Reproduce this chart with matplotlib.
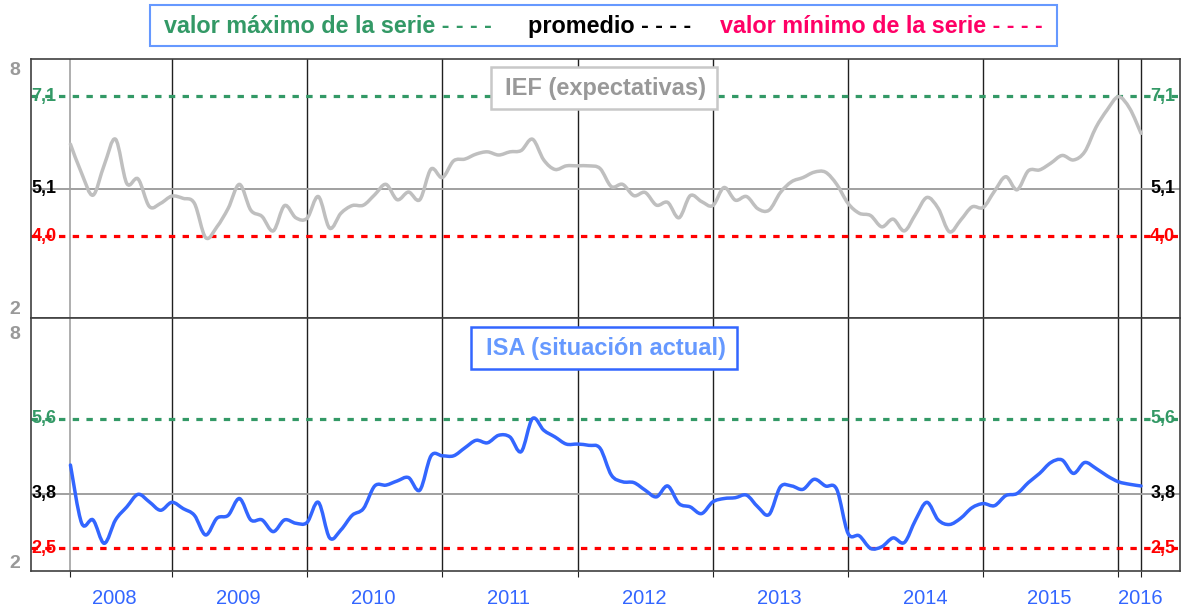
import numpy as np
import matplotlib
matplotlib.use("Agg")
import matplotlib.pyplot as plt
from matplotlib.path import Path
from matplotlib.patches import PathPatch, Rectangle

plt.rcParams['font.family'] = ['Liberation Sans', 'DejaVu Sans']

# ---------------- data (monthly, April 2008 .. March 2016) ----------------
start_year, start_month = 2008, 4
ief = [6.04, 5.39, 4.91, 5.58, 6.15, 5.17, 5.27, 4.66, 4.73, 4.89, 4.84, 4.73,
       3.97, 4.21, 4.62, 5.15, 4.58, 4.44, 4.12, 4.68, 4.41, 4.40, 4.88, 4.18,
       4.51, 4.68, 4.69, 4.92, 5.15, 4.81, 4.98, 4.81, 5.49, 5.30, 5.67, 5.71,
       5.82, 5.87, 5.80, 5.87, 5.90, 6.15, 5.69, 5.48, 5.56, 5.56, 5.56, 5.50,
       5.10, 5.15, 4.90, 4.97, 4.69, 4.75, 4.41, 4.90, 4.77, 4.68, 5.08, 4.80,
       4.88, 4.61, 4.58, 4.97, 5.21, 5.30, 5.42, 5.42, 5.15, 4.73, 4.51, 4.46,
       4.21, 4.38, 4.12, 4.49, 4.86, 4.62, 4.10, 4.36, 4.65, 4.64, 5.00, 5.32,
       5.03, 5.45, 5.47, 5.62, 5.79, 5.69, 5.87, 6.41, 6.80, 7.09, 6.83, 6.28]
isa = [4.49, 3.10, 3.18, 2.62, 3.18, 3.49, 3.79, 3.61, 3.41, 3.60, 3.45, 3.29,
       2.82, 3.22, 3.29, 3.69, 3.18, 3.18, 2.90, 3.18, 3.10, 3.12, 3.60, 2.75,
       2.94, 3.29, 3.45, 3.99, 4.01, 4.11, 4.19, 3.89, 4.71, 4.71, 4.71, 4.90,
       5.08, 5.02, 5.20, 5.16, 4.81, 5.60, 5.32, 5.16, 4.99, 4.99, 4.96, 4.89,
       4.25, 4.09, 4.07, 3.89, 3.73, 3.99, 3.57, 3.49, 3.33, 3.61, 3.69, 3.71,
       3.77, 3.49, 3.31, 3.97, 3.99, 3.91, 4.15, 3.99, 3.91, 2.86, 2.80, 2.50,
       2.54, 2.75, 2.64, 3.18, 3.60, 3.18, 3.07, 3.22, 3.47, 3.57, 3.52, 3.76,
       3.81, 4.07, 4.29, 4.55, 4.61, 4.29, 4.55, 4.41, 4.23, 4.09, 4.03, 3.99]
years = ['2008', '2009', '2010', '2011', '2012', '2013', '2014', '2015', '2016']

ief_ref = [7.1, 5.05, 4.0]          # max, mean, min
ief_ref_labels = ['7,1', '5,1', '4,0']
isa_ref = [5.6, 3.8, 2.5]
isa_ref_labels = ['5,6', '3,8', '2,5']
axis_labels = ['8', '2']

legend_texts = ['valor máximo de la serie - - - -', 'promedio - - - -',
                'valor mínimo de la serie - - - -']

# ---------------- styles / layout ----------------
GREEN = '#339966'
RED = '#FF0000'
PINK = '#FF0066'
BLUE = '#3366FF'
LBLUE = '#6699FF'
GRAYLINE = '#BFBFBF'
W, H = 1182, 614
year_label_pos = [3.9, 14.9, 26.9, 38.9, 50.9, 62.9, 75.9, 86.9, 94.95]  # months since start

x = np.arange(len(ief))
year_starts = [int(m) for m in x if (start_month - 1 + m) % 12 == 0]
bounds = [0] + year_starts + [int(x[-1])]


def smooth_path(xs, ys):
    pts = np.column_stack([xs, ys]).astype(float)
    n = len(pts)
    verts = [pts[0]]
    codes = [Path.MOVETO]
    for i in range(n - 1):
        p0 = pts[i - 1] if i > 0 else pts[i]
        p1 = pts[i]
        p2 = pts[i + 1]
        p3 = pts[i + 2] if i + 2 < n else pts[i + 1]
        c1 = p1 + (p2 - p0) / 6.0
        c2 = p2 - (p3 - p1) / 6.0
        verts += [c1, c2, p2]
        codes += [Path.CURVE4] * 3
    return Path(verts, codes)


fig = plt.figure(figsize=(W / 100, H / 100), dpi=100)

def fig_rect(l, t, r, b):
    return [l / W, 1 - b / H, (r - l) / W, (b - t) / H]

ax1 = fig.add_axes(fig_rect(31, 59.3, 1180, 318))
ax2 = fig.add_axes(fig_rect(31, 318, 1180, 571))

ax1.set_ylim(2.191, 7.919)
ax2.set_ylim(1.96, 8.0)

panels = [
    (ax1, ief, ief_ref, ief_ref_labels, GRAYLINE),
    (ax2, isa, isa_ref, isa_ref_labels, BLUE),
]
for ax, series, refs, rlabels, col in panels:
    ax.set_xlim(-3.5, 98.46)
    ax.set_yticks([])
    for s in ax.spines.values():
        s.set_color('#404040')
        s.set_linewidth(1.2)
    for i, b in enumerate(bounds):
        ax.axvline(b, color='#A8A8A8' if i == 0 else '#202020',
                   lw=1.3 if i == 0 else 1.0, zorder=1)
    ax.axhline(refs[0], color=GREEN, lw=2.3, ls=(0, (2.0, 2.3)), zorder=2)
    ax.axhline(refs[1], color='#A0A0A0', lw=1.4, zorder=2)
    ax.axhline(refs[2], color=RED, lw=2.3, ls=(0, (2.0, 2.3)), zorder=2)
    ax.add_patch(PathPatch(smooth_path(x, series), fill=False, edgecolor=col,
                           lw=2.5, capstyle='round', joinstyle='round', zorder=3))
    lcols = [GREEN, 'black', RED]
    for v, t, c in zip(refs, rlabels, lcols):
        ax.text(0.0115, v, t, transform=ax.get_yaxis_transform(), ha='center',
                va='center', color=c, fontsize=13, fontweight='bold', zorder=5)
        ax.text(0.985, v, t, transform=ax.get_yaxis_transform(), ha='center',
                va='center', color=c, fontsize=13, fontweight='bold', zorder=5)

# axis "8" / "2" labels
for ax, ytop, ybot in [(ax1, 0.956, 0.031), (ax2, 0.933, 0.028)]:
    ax.text(-0.014, ytop, axis_labels[0], transform=ax.transAxes, ha='center',
            va='center', color='#999999', fontsize=14, fontweight='bold')
    ax.text(-0.014, ybot, axis_labels[1], transform=ax.transAxes, ha='center',
            va='center', color='#999999', fontsize=14, fontweight='bold')

# x ticks
ax1.set_xticks([])
ax2.set_xticks(bounds)
ax2.set_xticklabels([])
ax2.tick_params(axis='x', which='major', length=4, color='#202020', direction='out')
ax2.set_xticks(year_label_pos, minor=True)
ax2.set_xticklabels(years, minor=True)
ax2.tick_params(axis='x', which='minor', length=0, pad=13, labelsize=14.5,
                labelcolor=BLUE)

# panel title boxes
ax1.add_patch(Rectangle((0.4003, 0.808), 0.1967, 0.163, transform=ax1.transAxes,
                        facecolor='white', edgecolor='#C8C8C8', lw=1.8, zorder=6))
ax1.text(0.5, 0.889, 'IEF (expectativas)', transform=ax1.transAxes, ha='center',
         va='center', color='#999999', fontsize=17, fontweight='bold', zorder=7)
ax2.add_patch(Rectangle((0.3827, 0.798), 0.2314, 0.166, transform=ax2.transAxes,
                        facecolor='white', edgecolor=BLUE, lw=1.8, zorder=6))
ax2.text(0.5, 0.881, 'ISA (situación actual)', transform=ax2.transAxes, ha='center',
         va='center', color=LBLUE, fontsize=17, fontweight='bold', zorder=7)

# legend box at the top
fig.patches.append(Rectangle((150 / W, 1 - 46 / H), (1057 - 150) / W, 41 / H,
                             transform=fig.transFigure, facecolor='white',
                             edgecolor=LBLUE, lw=1.5))
for t, xp, c in zip(legend_texts, [164, 528, 720], [GREEN, 'black', PINK]):
    fig.text(xp / W, 1 - 26.7 / H, t, ha='left', va='center', color=c,
             fontsize=16.8, fontweight='bold')

fig.savefig('out.png', dpi=100)
